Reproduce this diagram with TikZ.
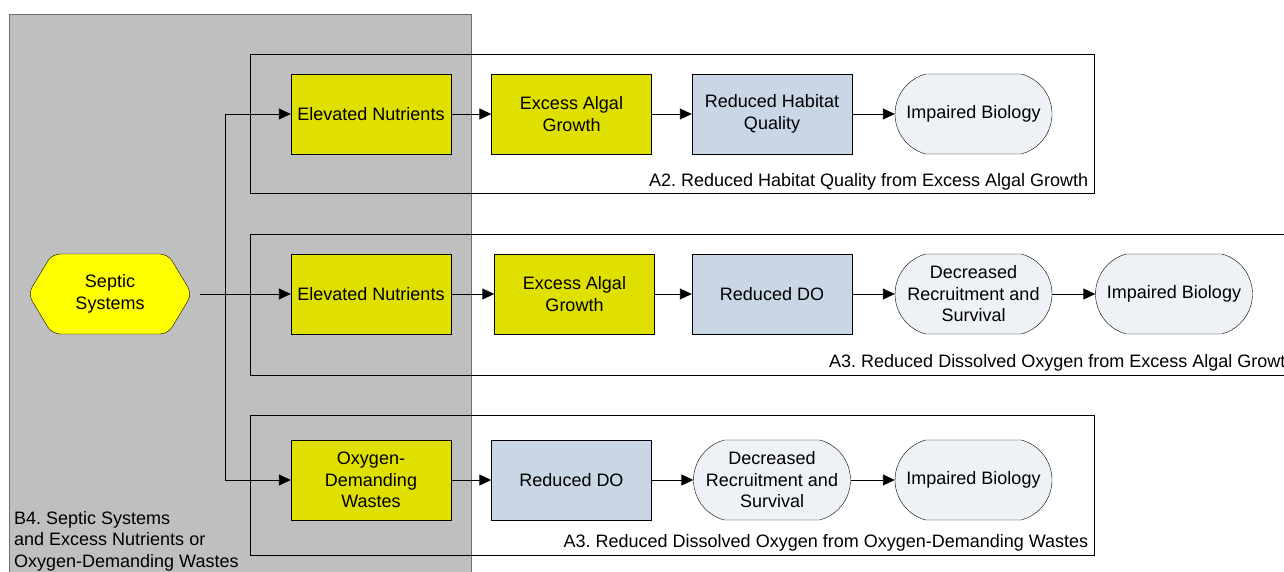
\documentclass[tikz,border=0pt]{standalone}
\usepackage{fontspec}
\setmainfont{Liberation Sans}
\frenchspacing
\usetikzlibrary{arrows.meta, positioning, shapes.misc, calc}

\definecolor{panelgray}{HTML}{BFBFBF}
\definecolor{paneledge}{HTML}{6E6E6E}
\definecolor{nutrientyellow}{HTML}{E0E000}
\definecolor{sourceyellow}{HTML}{FFFF00}
\definecolor{stressorblue}{HTML}{C9D6E5}
\definecolor{responsegray}{HTML}{EEF1F6}

\begin{document}
\begin{tikzpicture}[
    x=1pt, y=-1pt, % pixel-like units, y pointing down
    >={Triangle[length=12pt, width=11pt]}, % Set default arrow tip style
    every node/.style={font=\fontsize{18}{21.5}\selectfont}, % Arial-like text
    panel/.style={fill=panelgray, draw=paneledge, line width=0.9pt}, % Style for the B4 panel
    frame/.style={draw, line width=0.9pt, minimum width=844pt, minimum height=139pt, inner sep=0pt}, % Style for pathway frames
    framelabel/.style={anchor=base east, inner sep=0pt}, % Style for frame captions
    proxbox/.style={draw, fill=nutrientyellow, minimum width=160pt, minimum height=80pt, align=center, inner sep=2pt}, % Yellow boxes
    stressbox/.style={draw, fill=stressorblue, minimum width=160pt, minimum height=80pt, align=center, inner sep=2pt}, % Blue boxes
    response/.style={draw, fill=responsegray, rounded rectangle, rounded rectangle arc length=150, minimum width=161pt, minimum height=80pt, align=center, inner sep=2pt}, % Rounded end points
    hexfill/.style={draw, fill=sourceyellow, rounded corners=8pt}, % Style for the source shape
    link/.style={->, line width=0.9pt} % Style for connectors
]

    % Canvas
    \useasboundingbox (0,0) rectangle (1284,572);
    \clip (0,0) rectangle (1284,572);

    % B4 panel
    \draw[panel] (9,14) rectangle (471,590);
    \node[anchor=north west, align=left, inner sep=0pt] (lblB4) at (14,511)
        {B4. Septic Systems\\and Excess Nutrients or\\Oxygen-Demanding Wastes};

    % Pathway frames
    \node[frame] (frameA2) at (672,123.5) {};
    \node[frame, minimum width=1050pt, minimum height=141pt] (frameA3a) at (775,304.5) {};
    \node[frame, minimum height=140pt] (frameA3b) at (672,485) {};

    \node[framelabel] (lblA2) at ($(frameA2.south east)+(-6,-7)$) {A2. Reduced Habitat Quality from Excess Algal Growth};
    \node[framelabel, anchor=base west] (lblA3a) at (829,367) {A3. Reduced Dissolved Oxygen from Excess Algal Growth};
    \node[framelabel] (lblA3b) at ($(frameA3b.south east)+(-6,-8)$) {A3. Reduced Dissolved Oxygen from Oxygen-Demanding Wastes};

    % Source: Septic Systems (hexagon drawn round its node)
    \coordinate (septicpos) at (110,294);
    \draw[hexfill] ($(septicpos)+(0,-40)$) -- ($(septicpos)+(58,-40)$) -- ($(septicpos)+(82,0)$)
        -- ($(septicpos)+(58,40)$) -- ($(septicpos)+(-58,40)$) -- ($(septicpos)+(-82,0)$)
        -- ($(septicpos)+(-58,-40)$) -- cycle;
    \node[minimum width=164pt, minimum height=80pt, align=center, inner sep=0pt] (septic) at (septicpos) {Septic\\Systems};

    % Row A2
    \node[proxbox] (nutrA) at (371,114) {Elevated Nutrients};
    \node[proxbox] (algaeA) at (571.5,114) {Excess Algal\\Growth};
    \node[stressbox] (habitat) at (772,114) {Reduced Habitat\\Quality};
    \node[response] (bioA) at (973.5,114) {Impaired Biology};

    % Row A3 (algae)
    \node[proxbox] (nutrB) at (371,294) {Elevated Nutrients};
    \node[proxbox] (algaeB) at (574.5,294) {Excess Algal\\Growth};
    \node[stressbox] (doB) at (772,294) {Reduced DO};
    \node[response] (recruitB) at (973.5,294) {Decreased\\Recruitment and\\Survival};
    \node[response] (bioB) at (1174,294) {Impaired Biology};

    % Row A3 (wastes)
    \node[proxbox] (wastes) at (371,480) {Oxygen-\\Demanding\\Wastes};
    \node[stressbox] (doC) at (571.5,480) {Reduced DO};
    \node[response] (recruitC) at (772,480) {Decreased\\Recruitment and\\Survival};
    \node[response] (bioC) at (973.5,480) {Impaired Biology};

    % Connectors from the source
    \coordinate (split) at (225,294);
    \draw[link, shorten <=8pt] (septic.east) -- (nutrB.west);
    \draw[link] (split) |- (nutrA.west);
    \draw[link] (split) |- (wastes.west);

    % Chains
    \draw[link] (nutrA.east) -- (algaeA.west);
    \draw[link] (algaeA.east) -- (habitat.west);
    \draw[link] (habitat.east) -- (bioA.west);

    \draw[link] (nutrB.east) -- (algaeB.west);
    \draw[link] (algaeB.east) -- (doB.west);
    \draw[link] (doB.east) -- (recruitB.west);
    \draw[link] (recruitB.east) -- (bioB.west);

    \draw[link] (wastes.east) -- (doC.west);
    \draw[link] (doC.east) -- (recruitC.west);
    \draw[link] (recruitC.east) -- (bioC.west);

\end{tikzpicture}
\end{document}
